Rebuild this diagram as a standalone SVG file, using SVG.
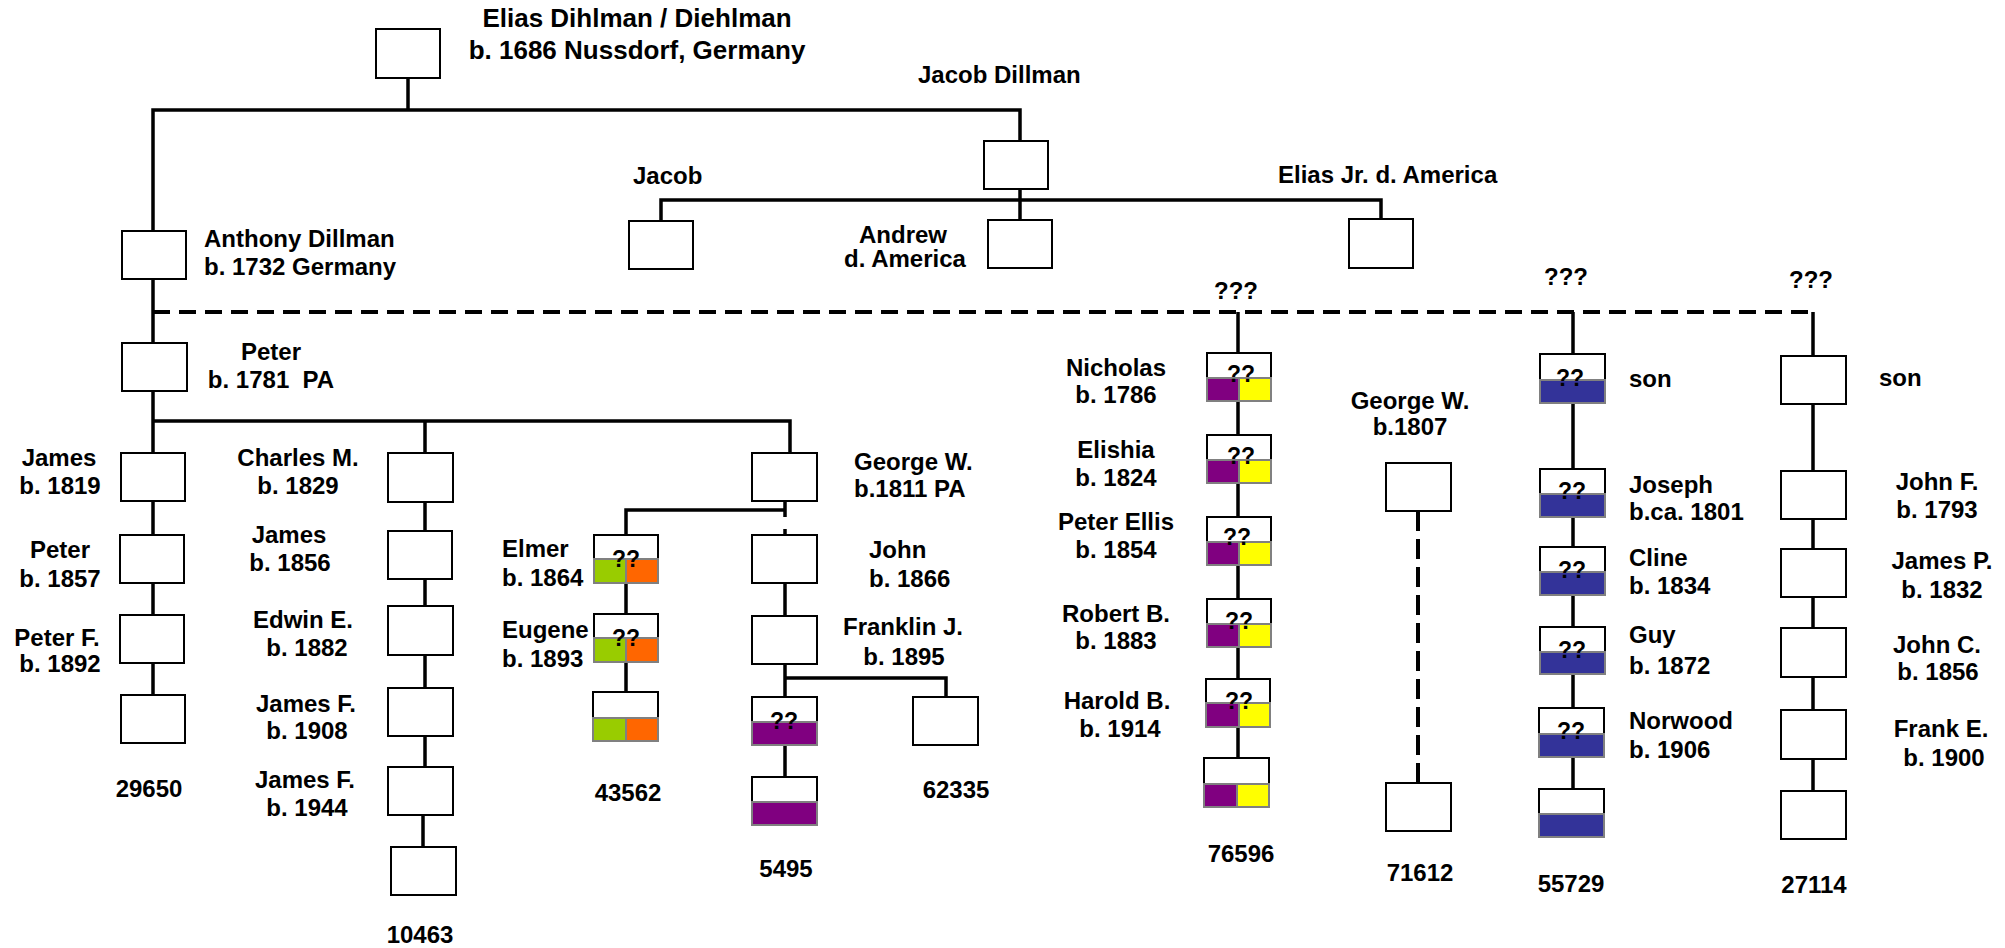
<svg xmlns="http://www.w3.org/2000/svg" width="2005" height="948" viewBox="0 0 2005 948">
<style>
text{font-family:"Liberation Sans",Arial,sans-serif;font-weight:bold;font-size:24px;fill:#000}
.h{font-size:26px}
.c{text-anchor:middle}
.q{font-size:23px;text-anchor:middle}
.b{fill:#fff;stroke:#000;stroke-width:2}
.ln{fill:none;stroke:#000;stroke-width:3.5}
.dl{fill:none;stroke:#000;stroke-width:4;stroke-dasharray:17 9}
.pu{fill:#800080;stroke:#808080;stroke-width:2}
.ye{fill:#ffff00;stroke:#808080;stroke-width:2}
.gr{fill:#99cc00;stroke:#808080;stroke-width:2}
.or{fill:#ff6600;stroke:#808080;stroke-width:2}
.bl{fill:#333399;stroke:#808080;stroke-width:2}
</style>
<rect width="2005" height="948" fill="#fff"/>
<g id="connectors">
<path class="ln" d="M408,78V110"/>
<path class="ln" d="M153,231V110H1020V141"/>
<path class="ln" d="M1020,189V219"/>
<path class="ln" d="M661,221V200H1381V219"/>
<path class="ln" d="M153,279V343"/>
<path class="dl" d="M153,312H1813"/>
<path class="ln" d="M153,391V453M153,501V535M153,583V615M153,663V695"/>
<path class="ln" d="M153,421H790V453"/>
<path class="ln" d="M425,421V453M425,502V531M425,579V606M425,655V688M425,736V767M423,815V847"/>
<path class="ln" d="M785,501V517M785,529V535M785,583V616M785,664V697M785,745V777"/>
<path class="ln" d="M785,510H626V535M626,583V614M626,662V692"/>
<path class="ln" d="M785,678H946V697"/>
<path class="ln" d="M1238,312V353M1238,401V435M1238,483V517M1238,565V599M1238,647V679M1238,727V758"/>
<path class="dl" d="M1418,511V783" style="stroke-dasharray:20 8"/>
<path class="ln" d="M1573,312V354M1573,403V469M1573,517V547M1573,595V627M1573,675V708M1573,757V789"/>
<path class="ln" d="M1813,312V356M1813,404V471M1813,519V549M1813,597V628M1813,677V710M1813,759V791"/>
</g>
<g id="elias"><rect class="b" x="376" y="29" width="64" height="49"/><text class="h c" x="637" y="27">Elias Dihlman / Diehlman</text><text class="h c" x="637" y="59">b. 1686 Nussdorf, Germany</text></g>
<g id="jacob-dillman"><rect class="b" x="984" y="141" width="64" height="48"/><text x="918" y="83">Jacob Dillman</text></g>
<g id="jacob"><rect class="b" x="629" y="221" width="64" height="48"/><text x="633" y="184">Jacob</text></g>
<g id="andrew"><rect class="b" x="988" y="220" width="64" height="48"/><text class="c" x="903" y="243">Andrew</text><text class="c" x="905" y="267">d. America</text></g>
<g id="elias-jr"><rect class="b" x="1349" y="219" width="64" height="49"/><text x="1278" y="183">Elias Jr. d. America</text></g>
<g id="anthony"><rect class="b" x="122" y="231" width="64" height="48"/><text x="204" y="247">Anthony Dillman</text><text x="204" y="275">b. 1732 Germany</text></g>
<g id="unknowns"><text class="c" x="1236" y="299">???</text><text class="c" x="1566" y="285">???</text><text class="c" x="1811" y="288">???</text></g>
<g id="peter-1781"><rect class="b" x="122" y="343" width="65" height="48"/><text class="c" x="271" y="360">Peter</text><text class="c" x="271" y="388" xml:space="preserve">b. 1781  PA</text></g>
<g id="james-1819"><rect class="b" x="121" y="453" width="64" height="48"/><text class="c" x="59" y="466">James</text><text class="c" x="60" y="494">b. 1819</text></g>
<g id="peter-1857"><rect class="b" x="120" y="535" width="64" height="48"/><text class="c" x="60" y="558">Peter</text><text class="c" x="60" y="587">b. 1857</text></g>
<g id="peter-f-1892"><rect class="b" x="120" y="615" width="64" height="48"/><text class="c" x="57" y="646">Peter F.</text><text class="c" x="60" y="672">b. 1892</text></g>
<g id="kit-29650"><rect class="b" x="121" y="695" width="64" height="48"/><text class="c" x="149" y="797">29650</text></g>
<g id="charles-1829"><rect class="b" x="388" y="453" width="65" height="49"/><text class="c" x="298" y="466">Charles M.</text><text class="c" x="298" y="494">b. 1829</text></g>
<g id="james-1856"><rect class="b" x="388" y="531" width="64" height="48"/><text class="c" x="289" y="543">James</text><text class="c" x="290" y="571">b. 1856</text></g>
<g id="edwin-1882"><rect class="b" x="388" y="606" width="65" height="49"/><text class="c" x="303" y="628">Edwin E.</text><text class="c" x="307" y="656">b. 1882</text></g>
<g id="james-f-1908"><rect class="b" x="388" y="688" width="65" height="48"/><text class="c" x="306" y="712">James F.</text><text class="c" x="307" y="739">b. 1908</text></g>
<g id="james-f-1944"><rect class="b" x="388" y="767" width="65" height="48"/><text class="c" x="305" y="788">James F.</text><text class="c" x="307" y="816">b. 1944</text></g>
<g id="kit-10463"><rect class="b" x="391" y="847" width="65" height="48"/><text class="c" x="420" y="943">10463</text></g>
<g id="george-1811"><rect class="b" x="752" y="453" width="65" height="48"/><text x="854" y="470">George W.</text><text x="854" y="497">b.1811 PA</text></g>
<g id="elmer-1864"><rect class="b" x="594" y="535" width="64" height="48"/><rect class="gr" x="594" y="559" width="32" height="24"/><rect class="or" x="626" y="559" width="32" height="24"/><text class="q" x="626" y="567">??</text><text x="502" y="557">Elmer</text><text x="502" y="586">b. 1864</text></g>
<g id="eugene-1893"><rect class="b" x="594" y="614" width="64" height="48"/><rect class="gr" x="594" y="638" width="32" height="24"/><rect class="or" x="626" y="638" width="32" height="24"/><text class="q" x="626" y="646">??</text><text x="502" y="638">Eugene</text><text x="502" y="667">b. 1893</text></g>
<g id="kit-43562"><rect class="b" x="593" y="692" width="65" height="49"/><rect class="gr" x="593" y="718" width="33" height="23"/><rect class="or" x="626" y="718" width="32" height="23"/><text class="c" x="628" y="801">43562</text></g>
<g id="john-1866"><rect class="b" x="752" y="535" width="65" height="48"/><text x="869" y="558">John</text><text x="869" y="587">b. 1866</text></g>
<g id="franklin-1895"><rect class="b" x="752" y="616" width="65" height="48"/><text class="c" x="903" y="635">Franklin J.</text><text class="c" x="904" y="665">b. 1895</text></g>
<g id="purple-1"><rect class="b" x="752" y="697" width="65" height="48"/><rect class="pu" x="752" y="722" width="65" height="23"/><text class="q" x="784" y="729">??</text></g>
<g id="kit-5495"><rect class="b" x="752" y="777" width="65" height="48"/><rect class="pu" x="752" y="802" width="65" height="23"/><text class="c" x="786" y="877">5495</text></g>
<g id="kit-62335"><rect class="b" x="913" y="697" width="65" height="48"/><text class="c" x="956" y="798">62335</text></g>
<g id="nicholas-1786"><rect class="b" x="1207" y="353" width="64" height="48"/><rect class="pu" x="1207" y="378" width="32" height="23"/><rect class="ye" x="1239" y="378" width="32" height="23"/><text class="q" x="1241" y="382">??</text><text class="c" x="1116" y="376">Nicholas</text><text class="c" x="1116" y="403">b. 1786</text></g>
<g id="elishia-1824"><rect class="b" x="1207" y="435" width="64" height="48"/><rect class="pu" x="1207" y="460" width="32" height="23"/><rect class="ye" x="1239" y="460" width="32" height="23"/><text class="q" x="1241" y="464">??</text><text class="c" x="1116" y="458">Elishia</text><text class="c" x="1116" y="486">b. 1824</text></g>
<g id="peter-ellis-1854"><rect class="b" x="1207" y="517" width="64" height="48"/><rect class="pu" x="1207" y="542" width="32" height="23"/><rect class="ye" x="1239" y="542" width="32" height="23"/><text class="q" x="1237" y="545">??</text><text class="c" x="1116" y="530">Peter Ellis</text><text class="c" x="1116" y="558">b. 1854</text></g>
<g id="robert-1883"><rect class="b" x="1207" y="599" width="64" height="48"/><rect class="pu" x="1207" y="624" width="32" height="23"/><rect class="ye" x="1239" y="624" width="32" height="23"/><text class="q" x="1239" y="629">??</text><text class="c" x="1116" y="622">Robert B.</text><text class="c" x="1116" y="649">b. 1883</text></g>
<g id="harold-1914"><rect class="b" x="1206" y="679" width="64" height="48"/><rect class="pu" x="1206" y="703" width="33" height="24"/><rect class="ye" x="1239" y="703" width="31" height="24"/><text class="q" x="1239" y="709">??</text><text class="c" x="1117" y="709">Harold B.</text><text class="c" x="1120" y="737">b. 1914</text></g>
<g id="kit-76596"><rect class="b" x="1204" y="758" width="65" height="49"/><rect class="pu" x="1204" y="784" width="33" height="23"/><rect class="ye" x="1237" y="784" width="32" height="23"/><text class="c" x="1241" y="862">76596</text></g>
<g id="george-1807"><rect class="b" x="1386" y="463" width="65" height="48"/><text class="c" x="1410" y="409">George W.</text><text class="c" x="1410" y="435">b.1807</text></g>
<g id="kit-71612"><rect class="b" x="1386" y="783" width="65" height="48"/><text class="c" x="1420" y="881">71612</text></g>
<g id="son-blue"><rect class="b" x="1540" y="354" width="65" height="49"/><rect class="bl" x="1540" y="380" width="65" height="23"/><text class="q" x="1570" y="386">??</text><text x="1629" y="387">son</text></g>
<g id="joseph-1801"><rect class="b" x="1540" y="469" width="65" height="48"/><rect class="bl" x="1540" y="494" width="65" height="23"/><text class="q" x="1572" y="499">??</text><text x="1629" y="493">Joseph</text><text x="1629" y="520">b.ca. 1801</text></g>
<g id="cline-1834"><rect class="b" x="1540" y="547" width="65" height="48"/><rect class="bl" x="1540" y="572" width="65" height="23"/><text class="q" x="1572" y="578">??</text><text x="1629" y="566">Cline</text><text x="1629" y="594">b. 1834</text></g>
<g id="guy-1872"><rect class="b" x="1540" y="627" width="65" height="47"/><rect class="bl" x="1540" y="652" width="65" height="22"/><text class="q" x="1572" y="658">??</text><text x="1629" y="643">Guy</text><text x="1629" y="674">b. 1872</text></g>
<g id="norwood-1906"><rect class="b" x="1539" y="708" width="65" height="49"/><rect class="bl" x="1539" y="734" width="65" height="23"/><text class="q" x="1571" y="739">??</text><text x="1629" y="729">Norwood</text><text x="1629" y="758">b. 1906</text></g>
<g id="kit-55729"><rect class="b" x="1539" y="789" width="65" height="48"/><rect class="bl" x="1539" y="814" width="65" height="23"/><text class="c" x="1571" y="892">55729</text></g>
<g id="son-right"><rect class="b" x="1781" y="356" width="65" height="48"/><text x="1879" y="386">son</text></g>
<g id="john-f-1793"><rect class="b" x="1781" y="471" width="65" height="48"/><text class="c" x="1937" y="490">John F.</text><text class="c" x="1937" y="518">b. 1793</text></g>
<g id="james-p-1832"><rect class="b" x="1781" y="549" width="65" height="48"/><text class="c" x="1942" y="569">James P.</text><text class="c" x="1942" y="598">b. 1832</text></g>
<g id="john-c-1856"><rect class="b" x="1781" y="628" width="65" height="49"/><text class="c" x="1937" y="653">John C.</text><text class="c" x="1938" y="680">b. 1856</text></g>
<g id="frank-e-1900"><rect class="b" x="1781" y="710" width="65" height="49"/><text class="c" x="1941" y="737">Frank E.</text><text class="c" x="1944" y="766">b. 1900</text></g>
<g id="kit-27114"><rect class="b" x="1781" y="791" width="65" height="48"/><text class="c" x="1814" y="893">27114</text></g>
</svg>
